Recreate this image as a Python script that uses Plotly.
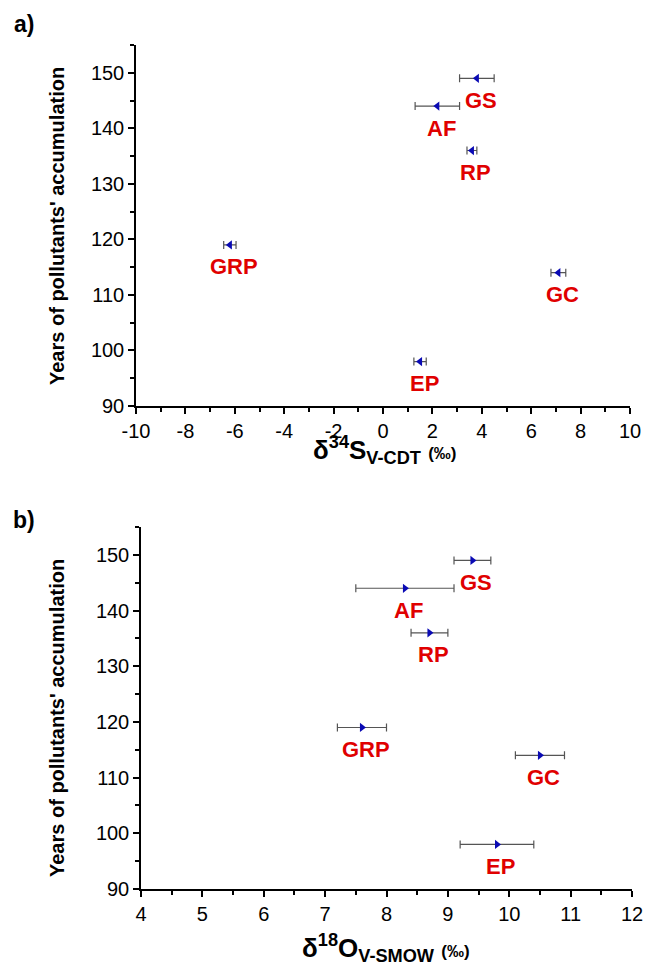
import plotly.graph_objects as go

# ---- data ----
sites = ["GS", "AF", "RP", "GRP", "GC", "EP"]
years = [149, 144, 136, 119, 114, 98]
d34S = [3.8, 2.2, 3.6, -6.2, 7.1, 1.5]
d34S_err = [0.7, 0.9, 0.2, 0.25, 0.3, 0.25]
d18O = [9.4, 8.3, 8.7, 7.6, 10.5, 9.8]
d18O_err = [0.3, 0.8, 0.3, 0.4, 0.4, 0.6]

x1_ticks = [-10, -8, -6, -4, -2, 0, 2, 4, 6, 8, 10]
x1_ticktext = ["-10", "-8", "-6", "-4", "-2", "0", "2", "4", "6", "8", "10"]
x2_ticks = [4, 5, 6, 7, 8, 9, 10, 11, 12]
y_ticks = [90, 100, 110, 120, 130, 140, 150]

FONT = "Liberation Sans, Arial, sans-serif"
RED = "#e00000"
BLUE = "#0a0ab4"
W, H = 648, 969

fig = go.Figure()

fig.add_trace(go.Scatter(
    x=d34S, y=years, mode="markers", xaxis="x", yaxis="y",
    marker=dict(symbol="triangle-left", size=8, color=BLUE),
    error_x=dict(type="data", array=d34S_err, color="#555555", thickness=1.2, width=4),
    showlegend=False))

fig.add_trace(go.Scatter(
    x=d18O, y=years, mode="markers", xaxis="x2", yaxis="y2",
    marker=dict(symbol="triangle-right", size=8, color=BLUE),
    error_x=dict(type="data", array=d18O_err, color="#555555", thickness=1.2, width=4),
    showlegend=False))

annotations = []
for xs, xref, yref in [(d34S, "x", "y"), (d18O, "x2", "y2")]:
    for s, xv, yv in zip(sites, xs, years):
        annotations.append(dict(
            x=xv, y=yv, xref=xref, yref=yref, text=f"<b>{s}</b>", showarrow=False,
            xanchor="center", yanchor="middle", xshift=4, yshift=-22,
            font=dict(family=FONT, size=22, color=RED)))

ytitle = "<b>Years of pollutants' accumulation</b>"
paper_ann = [
    dict(x=57, y=226, text=ytitle, textangle=-90, font=dict(family=FONT, size=20, color="black")),
    dict(x=57, y=718, text=ytitle, textangle=-90, font=dict(family=FONT, size=20, color="black")),
    dict(x=384, y=450,
         text="<b>δ<sup>34</sup>S<sub>V-CDT</sub> <span style='font-size:17px'>(‰)</span></b>",
         font=dict(family=FONT, size=26, color="black")),
    dict(x=386, y=948,
         text="<b>δ<sup>18</sup>O<sub>V-SMOW</sub> <span style='font-size:17px'>(‰)</span></b>",
         font=dict(family=FONT, size=26, color="black")),
    dict(x=24, y=24, text="<b>a)</b>", font=dict(family=FONT, size=23, color="black")),
    dict(x=24, y=520, text="<b>b)</b>", font=dict(family=FONT, size=23, color="black")),
]
for a in paper_ann:
    a.update(xref="paper", yref="paper", showarrow=False, xanchor="center", yanchor="middle",
             x=a["x"] / W, y=1 - a["y"] / H)
    annotations.append(a)

axis_common = dict(showline=True, linecolor="black", linewidth=1.5, mirror=False,
                   ticks="outside", ticklen=6, tickwidth=1.5, tickcolor="black",
                   showgrid=False, zeroline=False, automargin=False,
                   tickfont=dict(family=FONT, size=20, color="black"))
minor_y = dict(tickvals=[95, 105, 115, 125, 135, 145, 155], ticks="outside", ticklen=4,
               tickwidth=1.5, tickcolor="black")

fig.update_layout(
    width=W, height=H, margin=dict(l=0, r=0, t=0, b=0),
    paper_bgcolor="white", plot_bgcolor="white",
    xaxis=dict(domain=[136 / W, 630 / W], range=[-10, 10], tickvals=x1_ticks, ticktext=x1_ticktext,
               anchor="y",
               minor=dict(dtick=1, ticks="outside", ticklen=4, tickwidth=1.5, tickcolor="black"),
               **axis_common),
    yaxis=dict(domain=[1 - 406 / H, 1 - 45 / H], range=[90, 155], tickvals=y_ticks,
               anchor="x", minor=minor_y, **axis_common),
    xaxis2=dict(domain=[141 / W, 632 / W], range=[4, 12], tickvals=x2_ticks, anchor="y2",
                minor=dict(dtick=0.5, ticks="outside", ticklen=4, tickwidth=1.5, tickcolor="black"),
                **axis_common),
    yaxis2=dict(domain=[1 - 889 / H, 1 - 527 / H], range=[90, 155], tickvals=y_ticks,
                anchor="x2", minor=minor_y, **axis_common),
    annotations=annotations,
)

fig.write_html("out.html", config={"displayModeBar": False},
               post_script="document.body.style.margin='0';document.body.style.overflow='hidden';")
